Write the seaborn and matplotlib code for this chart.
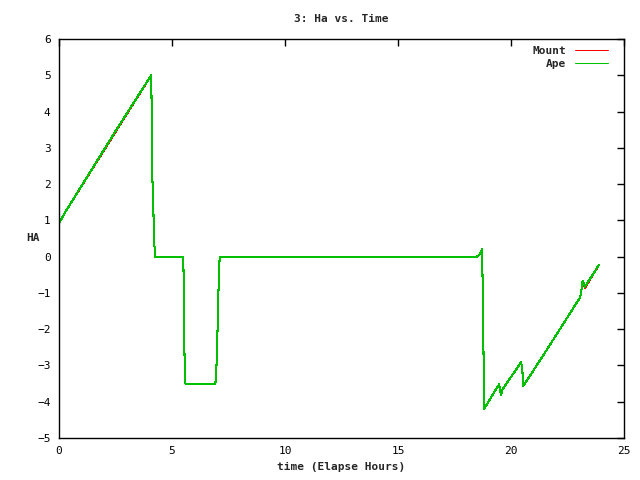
import numpy as np
import pandas as pd
import matplotlib
matplotlib.use("Agg")
import matplotlib.pyplot as plt
import seaborn as sns

# data (hours, HA)
time_hours = [0.0, 0.3, 2.48, 4.08, 4.1, 4.13, 4.19, 4.22, 4.26, 5.5, 5.52,
              5.55, 5.59, 6.92, 6.95, 6.99, 7.02, 7.07, 7.11, 18.48, 18.6,
              18.72, 18.76, 18.81, 19.47, 19.52, 19.56, 19.62, 20.45, 20.5,
              20.54, 21.5, 23.05, 23.1, 23.17, 23.27, 23.9]
ape_ha = [0.92, 1.25, 3.44, 5.0, 4.09, 2.22, 0.95, 0.32, 0.0, 0.0, -0.86,
          -2.63, -3.5, -3.5, -3.24, -2.73, -1.86, -0.62, 0.0, 0.0, 0.05,
          0.2, -1.3, -4.2, -3.52, -3.7, -3.82, -3.66, -2.91, -3.1,
          -3.57, -2.65, -1.13, -1.0, -0.67, -0.83, -0.22]
mount_ha = [0.92, 1.25, 3.42, 5.0, 4.09, 2.22, 0.95, 0.32, 0.0, 0.0, -0.86,
            -2.63, -3.5, -3.5, -3.24, -2.73, -1.86, -0.62, 0.0, 0.0, 0.05,
            0.2, -1.3, -4.2, -3.52, -3.7, -3.82, -3.66, -2.91, -3.1,
            -3.57, -2.65, -1.13, -1.0, -0.69, -0.86, -0.22]

sns.set_style("white")
plt.rcParams["font.family"] = ["DejaVu Sans Mono"]

fig = plt.figure(figsize=(6.4, 4.8), dpi=100)
ax = fig.add_axes([59 / 640, 1 - 438 / 480, 565 / 640, 399 / 480])

sns.lineplot(x=time_hours, y=mount_ha, ax=ax, sort=False, color="#ff0000",
             linewidth=0.75, label="Mount", antialiased=False)
sns.lineplot(x=time_hours, y=ape_ha, ax=ax, sort=False, color="#00c000",
             linewidth=0.75, label="Ape", antialiased=False)

ax.set_xlim(0, 25)
ax.set_ylim(-5, 6)
ax.set_xticks(range(0, 26, 5))
ax.set_yticks(range(-5, 7))
ax.tick_params(direction="in", length=5, width=1, top=True, right=True,
               labelsize=8, pad=6, colors="black")
for s in ax.spines.values():
    s.set_color("black")
    s.set_linewidth(1)

ax.set_title("3: Ha vs. Time", fontsize=8, fontweight="bold", pad=12)
ax.set_xlabel("time (Elapse Hours)", fontsize=8, fontweight="bold")
ax.set_ylabel("HA", fontsize=8, fontweight="bold", rotation=0, labelpad=3,
              va="center")

leg = ax.legend(loc="upper right", bbox_to_anchor=(0.984, 1.0), frameon=False,
                markerfirst=False, handlelength=3, borderaxespad=0.2,
                labelspacing=0.3, prop={"weight": "bold", "size": 8})
for t in leg.get_texts():
    t.set_ha("right")

fig.savefig("out.png", dpi=100)
